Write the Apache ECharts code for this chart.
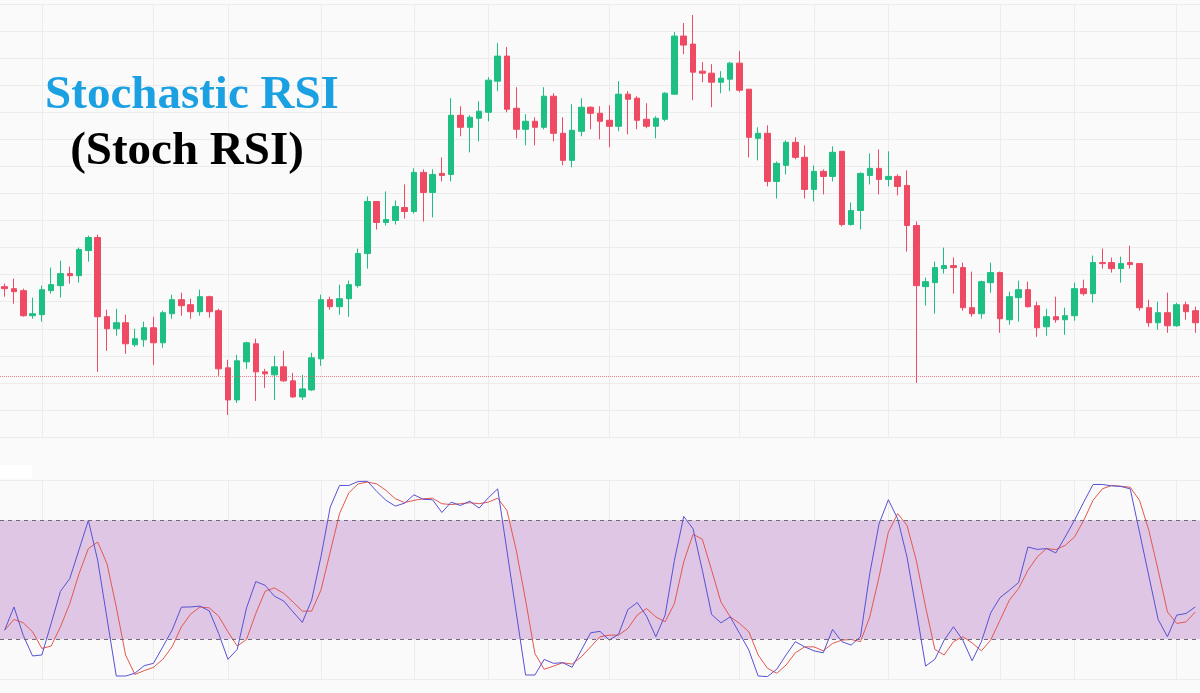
<!DOCTYPE html>
<html>
<head>
<meta charset="utf-8">
<script src="https://cdn.jsdelivr.net/npm/echarts@6/dist/echarts.min.js"></script>
<style>
  html, body { margin: 0; padding: 0; background: #fafafa; }
  #chart { width: 1200px; height: 693px; }
</style>
</head>
<body>
<div id="chart"></div>
<script>
// candles (price units, no axis shown)
const openList = [150,148,146,121,122,146,151,163,161,186, 199,120,108,114,92,97,109,94,123,137,
  132,125,140,126,69,37,75,93,65,62, 70,56,40,47,78,137,130,138,151,183,
  235,214,216,229,225,264,244,263,262,321, 309,318,324,355,380,328,307,315,309,340,
  303,276,305,329,323,316,310,342,338,317, 310,317,342,400,392,365,363,354,357,373,
  347,298,303,255,271,294,279,247,265,260, 285,212,226,261,268,257,260,251,211,150,
  154,168,171,169,129,123,154,164,117,139, 147,131,110,120,117,121,148,143,174,174,
  168,174,173,129,114,124,111,132,126];
const closeList = [148,145,121,123,147,152,163,161,187,199, 120,108,114,93,98,109,94,124,137,131,
  125,140,125,68,37,76,94,65,63,70, 56,40,48,79,137,130,138,152,183,235,
  214,217,230,225,264,244,262,261,321,309, 319,325,356,380,327,307,315,309,340,303,
  276,306,329,323,315,310,342,337,316,310, 318,343,400,391,364,363,354,358,373,346,
  299,303,255,273,294,279,247,265,260,284, 212,226,263,268,257,260,250,211,151,155,
  169,171,169,129,123,155,164,118,140,147, 130,109,120,117,121,148,143,174,173,168,
  173,172,129,114,124,111,132,125,114];
const lowList = [140,133,120,118,115,143,139,153,154,175, 65,86,101,83,90,90,72,89,118,121,
  118,121,119,61,22,34,68,36,49,37, 55,39,37,46,71,127,122,120,149,168,
  207,211,212,218,223,215,219,255,255,300, 284,295,315,345,324,298,291,291,307,295,
  271,269,300,307,297,289,305,302,307,308, 298,315,342,382,336,354,329,343,345,344,
  279,276,250,238,262,277,238,235,242,255, 210,211,207,252,242,250,241,185,54,131,
  123,163,143,126,120,118,144,104,112,115, 129,100,101,114,102,116,141,134,168,164,
  154,168,126,110,107,104,110,117,104];
const highList = [153,158,148,139,151,169,176,170,189,201, 202,127,128,122,108,115,120,126,142,144,
  138,147,141,128,77,82,95,98,68,81, 86,64,62,84,142,140,152,156,188,240,
  235,245,236,252,268,267,267,279,338,330, 321,335,359,393,389,349,322,319,349,343,
  319,332,338,330,330,331,355,345,340,333, 320,344,404,413,421,374,372,365,374,385,
  347,309,311,275,296,299,291,271,267,290, 285,234,264,283,287,285,262,266,215,159,
  175,189,179,174,165,156,174,165,145,156, 155,135,128,140,129,154,157,181,188,179,
  180,191,173,137,135,144,134,135,130];

// Stoch RSI %K and %D
const kList = [24.6,36.3,22,11.6,12.1,28,44.2,50.6,65.2,79.9, 59.8,30.7,1.5,1.5,2.9,6.7,7.9,16.2,24.6,36.2,
  36.3,36.7,34.3,23.0,9.9,14.9,35.8,49.1,47.2,41.7, 39.3,33.8,28.5,39.7,61.5,86.6,97.5,97.5,99.5,99.6,
  94.5,90,87.1,88.6,92.8,90.5,90.3,83.9,89.1,87.4, 89.6,86.1,91.3,95.8,64.5,33.3,2.0,2.0,9.9,7.9,
  8.2,5.9,14.6,23.3,24.0,19.6,22.6,35.0,38.5,31.7, 21.3,32.2,59.8,81.9,75.7,54.8,32.5,28.3,31.3,23.0,
  14.6,1.5,1.2,4.9,12.1,18.8,16.2,14.2,13.2,25.0, 18.8,17.1,21.3,53.1,78.2,90.3,80.7,61.5,34.7,6.5,
  9.9,19.6,26.3,19.6,9.2,18.8,33.3,41.0,44.7,48.6, 66.5,65.3,65.7,63.5,71.5,79.9,89.1,98.0,98.0,97.3,
  97.0,95.8,73.9,51.9,30.0,21.3,32.2,33.0,36.3];
const dList = [24.6,30.0,28.3,23.8,15.4,16.6,26.3,38.0,53.1,65.7, 69.0,58.1,36.3,12.1,2.3,4.2,5.9,9.9,16.2,26.3,
  32.7,36.3,35.8,31.7,23.8,16.6,19.9,33.0,44.2,45.9, 43.1,38.8,34.2,34.2,44.7,64.0,83.3,93.8,98.3,99.2,
  98.3,95.0,90.8,88.9,90.0,90.8,91.1,88.3,87.9,88.3, 88.8,88.3,89.1,91.1,84.9,64.8,39.7,12.9,4.9,6.5,
  8.2,7.5,11.2,16.2,21.3,22.1,22.1,25.5,32.2,35.5, 31.3,28.8,38.0,59.0,72.9,70.4,54.8,38.8,31.3,28.0,
  23.8,12.1,5.4,2.9,7.0,13.2,16.2,16.2,14.2,17.9, 19.6,19.9,18.8,31.3,51.4,74.0,83.3,77.4,59.8,36.3,
  14.9,12.1,18.8,21.3,18.2,14.2,19.6,29.6,39.7,45.6, 54.8,61.5,65.7,65.2,67.3,71.5,79.9,90.0,95.8,97.5,
  97.1,96.6,90.0,74.9,54.8,33.8,28.0,28.8,33.8];

const bandLow = 20;
const bandHigh = 80;
const priceLine = 61;
// bars where the vertical grid lines sit
const gridMarks = [4,16,24,34,44,52,65,79,87,95,107,115,126];

const UP = '#1dbf82';
const DOWN = '#ee4a63';

const days = openList.map((_, i) => String(i + 1));
const candles = openList.map((o, i) => [o, closeList[i], lowList[i], highList[i]]);

const chart = echarts.init(document.getElementById('chart'), null, { renderer: 'canvas' });

const xAxisBase = {
  type: 'category',
  data: days,
  boundaryGap: true,
  axisLine: { show: false },
  axisTick: { show: false },
  axisLabel: { show: false },
  splitLine: {
    show: true,
    alignWithLabel: true,
    interval: (idx) => gridMarks.includes(idx),
    lineStyle: { color: '#ececec', width: 1 }
  }
};

const option = {
  backgroundColor: '#fafafa',
  animation: false,
  grid: [
    { left: 0, right: 0, top: 4, height: 433 },
    { left: 0, right: 0, top: 480.5, height: 198.5 }
  ],
  xAxis: [
    { ...xAxisBase, gridIndex: 0 },
    { ...xAxisBase, gridIndex: 1 }
  ],
  yAxis: [
    {
      gridIndex: 0, type: 'value', min: 0, max: 432, interval: 27,
      axisLine: { show: false }, axisTick: { show: false }, axisLabel: { show: false },
      splitLine: { lineStyle: { color: '#ececec' } }
    },
    {
      gridIndex: 1, type: 'value', min: 0, max: 100, interval: 100,
      axisLine: { show: false }, axisTick: { show: false }, axisLabel: { show: false },
      splitLine: { lineStyle: { color: '#ececec' } }
    }
  ],
  graphic: [
    { type: 'rect', z: 10, shape: { x: 0, y: 465, width: 32, height: 13 }, style: { fill: '#ffffff' } },
    {
      type: 'text', z: 10, x: 192, y: 96,
      style: { text: 'Stochastic RSI', font: 'bold 47px "Liberation Serif"', fill: '#1ba0e2',
               textAlign: 'center', textVerticalAlign: 'middle' }
    },
    {
      type: 'text', z: 10, x: 187, y: 152,
      style: { text: '(Stoch RSI)', font: 'bold 47px "Liberation Serif"', fill: '#000000',
               textAlign: 'center', textVerticalAlign: 'middle' }
    }
  ],
  series: [
    {
      type: 'candlestick',
      xAxisIndex: 0, yAxisIndex: 0,
      data: candles,
      barWidth: 6,
      itemStyle: { color: UP, color0: DOWN, borderColor: UP, borderColor0: DOWN, borderWidth: 1 },
      markLine: {
        silent: true, symbol: 'none', label: { show: false },
        lineStyle: { color: DOWN, type: 'dotted', width: 1, opacity: 0.7 },
        data: [{ yAxis: priceLine }]
      }
    },
    {
      type: 'line', name: 'band',
      xAxisIndex: 1, yAxisIndex: 1,
      data: [],
      z: 1,
      markArea: {
        silent: true,
        itemStyle: { color: '#dfc6e4' },
        data: [[{ yAxis: bandLow }, { yAxis: bandHigh }]]
      },
      markLine: {
        silent: true, symbol: 'none', label: { show: false },
        lineStyle: { color: '#6f6a7a', type: [4, 4], width: 1 },
        data: [{ yAxis: bandLow }, { yAxis: bandHigh }]
      }
    },
    {
      type: 'line', name: '%D',
      xAxisIndex: 1, yAxisIndex: 1,
      data: dList, z: 3,
      symbol: 'none',
      lineStyle: { color: '#e4574f', width: 1 }
    },
    {
      type: 'line', name: '%K',
      xAxisIndex: 1, yAxisIndex: 1,
      data: kList, z: 4,
      symbol: 'none',
      lineStyle: { color: '#5752d4', width: 1 }
    }
  ]
};

chart.setOption(option);
window.addEventListener('resize', () => chart.resize());
</script>
</body>
</html>
